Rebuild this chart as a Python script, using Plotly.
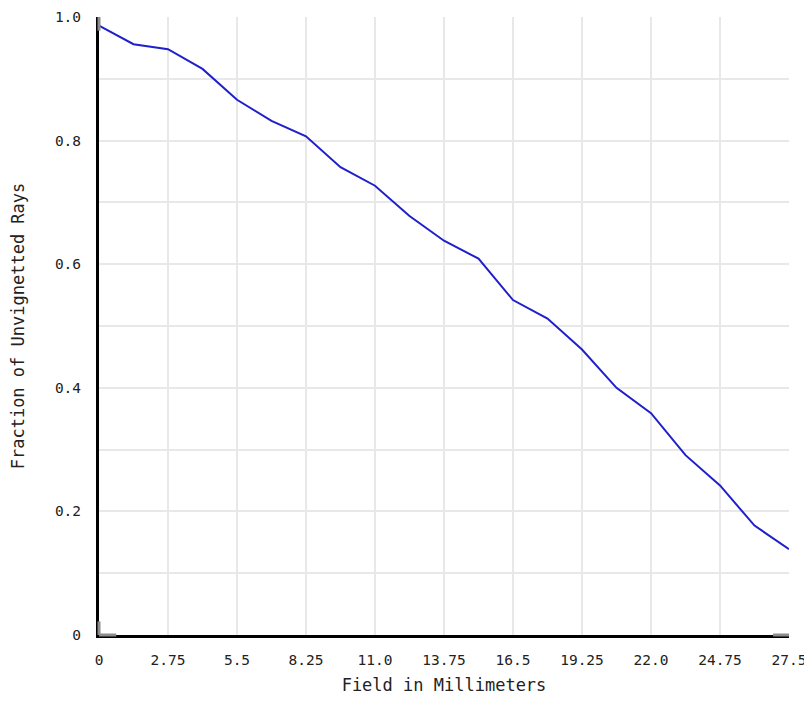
import plotly.graph_objects as go

# field positions (mm) and the fraction of rays that get through
field_mm = [0, 1.375, 2.75, 4.125, 5.5, 6.875, 8.25, 9.625, 11.0, 12.375, 13.75,
            15.125, 16.5, 17.875, 19.25, 20.625, 22.0, 23.375, 24.75, 26.125, 27.5]
unvignetted = [0.986, 0.956, 0.948, 0.916, 0.866, 0.832, 0.807, 0.757, 0.727, 0.678, 0.638,
               0.609, 0.542, 0.512, 0.462, 0.400, 0.359, 0.291, 0.242, 0.177, 0.139]

x_tickvals = [0, 2.75, 5.5, 8.25, 11.0, 13.75, 16.5, 19.25, 22.0, 24.75, 27.5]
x_ticktext = ["0", "2.75", "5.5", "8.25", "11.0", "13.75", "16.5", "19.25", "22.0", "24.75", "27.5"]
y_tickvals = [0, 0.2, 0.4, 0.6, 0.8, 1.0]
y_ticktext = ["0", "0.2", "0.4", "0.6", "0.8", "1.0"]

mono = "DejaVu Sans Mono"

fig = go.Figure()
fig.add_trace(go.Scatter(
    x=field_mm,
    y=unvignetted,
    mode="lines",
    line=dict(color="#1f1fcc", width=2),
    showlegend=False,
))

# the page body adds an 8px offset, so the figure is a little smaller
fig.update_layout(
    width=804,
    height=705,
    margin=dict(l=91, r=23, t=9, b=78),
    paper_bgcolor="white",
    plot_bgcolor="white",
    font=dict(family=mono, size=14, color="#222"),
)

fig.update_xaxes(
    range=[0, 27.5],
    tickvals=x_tickvals,
    ticktext=x_ticktext,
    tickfont=dict(size=14.5),
    showgrid=True,
    gridcolor="#e8e8e8",
    gridwidth=2,
    showline=True,
    linecolor="black",
    linewidth=3,
    zeroline=False,
    ticks="",
    ticklabelstandoff=10,
    automargin=False,
    title=dict(text="Field in Millimeters", standoff=12),
)

fig.update_yaxes(
    range=[0, 1.0],
    tickvals=y_tickvals,
    ticktext=y_ticktext,
    tickfont=dict(size=14.5),
    showgrid=True,
    gridcolor="#e8e8e8",
    gridwidth=2,
    minor=dict(tickvals=[0.1, 0.3, 0.5, 0.7, 0.9], showgrid=True,
               gridcolor="#e8e8e8", gridwidth=2),
    showline=True,
    linecolor="black",
    linewidth=3,
    zeroline=False,
    ticks="",
    ticklabelstandoff=12,
    automargin=False,
    title=dict(text="Fraction of Unvignetted Rays", standoff=30),
)

# grey caps at the ends of both axis lines
grey = "#8c8c8c"
fig.add_shape(type="line", xref="x domain", yref="y domain", x0=0, x1=0.025, y0=0, y1=0,
              line=dict(color=grey, width=3))
fig.add_shape(type="line", xref="x domain", yref="y domain", x0=0.977, x1=1, y0=0, y1=0,
              line=dict(color=grey, width=3))
fig.add_shape(type="line", xref="x domain", yref="y domain", x0=0, x1=0, y0=0, y1=0.022,
              line=dict(color=grey, width=3))
fig.add_shape(type="line", xref="x domain", yref="y domain", x0=0, x1=0, y0=0.978, y1=1,
              line=dict(color=grey, width=3))

fig.write_html("out.html")
